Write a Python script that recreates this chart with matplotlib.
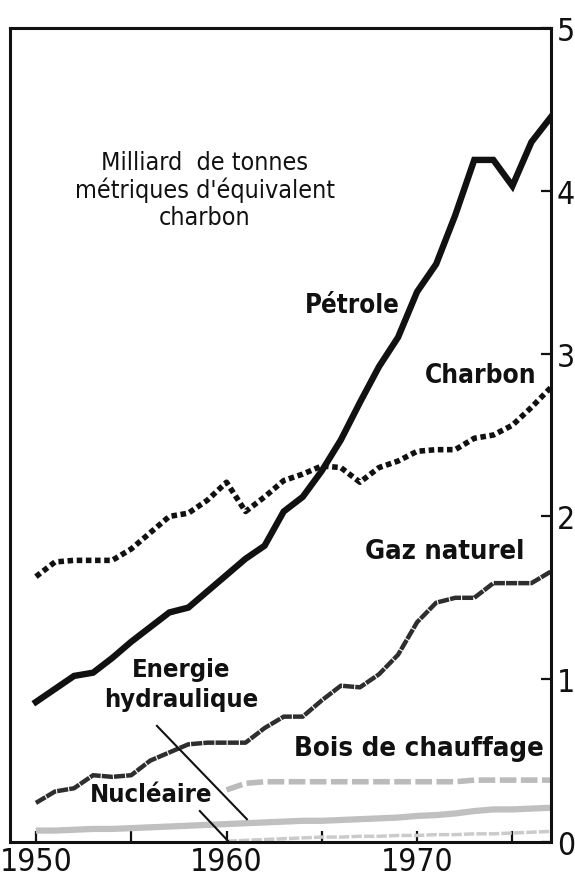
import matplotlib
matplotlib.use("Agg")
import matplotlib.pyplot as plt
from matplotlib import font_manager

# pick a narrow face if one is installed, else DejaVu Sans
narrow = None
for f in font_manager.fontManager.ttflist:
    name = f.name.lower()
    st = str(f.stretch).lower()
    if 'narrow' in name or 'condensed' in name or st in ('condensed', 'semi-condensed', '75', '87.5'):
        if 'liberation' in name or 'dejavu' in name or 'roboto' in name or 'noto' in name or 'open' in name:
            narrow = f
            break
if narrow is not None:
    FAMILY = [narrow.name, 'DejaVu Sans']
    STRETCH = narrow.stretch
else:
    FAMILY = ['DejaVu Sans']
    STRETCH = 'normal'
plt.rcParams['font.family'] = FAMILY
plt.rcParams['font.stretch'] = STRETCH

# data (milliard de tonnes equivalent charbon)
years = list(range(1950, 1978))
petrole = [0.86, 0.94, 1.02, 1.04, 1.13, 1.23, 1.32, 1.41, 1.44, 1.54,
           1.64, 1.74, 1.82, 2.03, 2.12, 2.28, 2.47, 2.70, 2.92, 3.10,
           3.38, 3.55, 3.85, 4.19, 4.19, 4.03, 4.30, 4.45]
charbon = [1.63, 1.72, 1.73, 1.73, 1.73, 1.80, 1.90, 2.00, 2.02, 2.10,
           2.21, 2.03, 2.12, 2.22, 2.26, 2.31, 2.30, 2.21, 2.30, 2.34,
           2.40, 2.41, 2.41, 2.48, 2.50, 2.56, 2.67, 2.79]
gaz = [0.24, 0.31, 0.33, 0.41, 0.40, 0.41, 0.50, 0.55, 0.60, 0.61,
       0.61, 0.61, 0.70, 0.77, 0.77, 0.87, 0.96, 0.95, 1.03, 1.15,
       1.35, 1.47, 1.50, 1.50, 1.59, 1.59, 1.59, 1.66]
hydro = [0.07, 0.07, 0.075, 0.08, 0.08, 0.085, 0.09, 0.095, 0.10, 0.105,
         0.11, 0.115, 0.12, 0.125, 0.13, 0.13, 0.135, 0.14, 0.145, 0.15,
         0.16, 0.165, 0.175, 0.19, 0.20, 0.20, 0.205, 0.21]
years_60 = list(range(1960, 1978))
bois = [0.32, 0.36, 0.37, 0.37, 0.37, 0.37, 0.37, 0.37, 0.37, 0.37,
        0.37, 0.37, 0.37, 0.38, 0.38, 0.38, 0.38, 0.38]
nucleaire = [0.005, 0.01, 0.015, 0.02, 0.025, 0.03, 0.03, 0.035, 0.035,
             0.04, 0.04, 0.045, 0.045, 0.05, 0.05, 0.055, 0.06, 0.065]

xticks = [1950, 1955, 1960, 1965, 1970, 1975]
xticklabels = ['1950', '', '1960', '', '1970', '']
yticks = [0, 1, 2, 3, 4, 5]

fig = plt.figure(figsize=(5.75, 8.78), dpi=100)
ax = fig.add_axes([0.0174, 0.0399, 0.941, 0.927])

# light series first
ax.plot(years, hydro, color='#c0c0c0', lw=4.5, solid_capstyle='butt')
ax.plot(years_60, nucleaire, color='#cbcbcb', lw=2.5, ls=(0, (3, 0.6)))
ax.plot(years_60, bois, color='#bbbbbb', lw=4, ls=(0, (3, 0.8)))
ax.plot(years, gaz, color='#2e2e2e', lw=3.2, ls=(0, (2.5, 0.25)))
ax.plot(years, charbon, color='#111111', lw=4, ls=(0, (1, 0.65)),
        dash_capstyle='butt')
ax.plot(years, petrole, color='#111111', lw=4.6, solid_joinstyle='miter')

ax.set_xlim(1948.64, 1977.03)
ax.set_ylim(0, 5)

for s in ax.spines.values():
    s.set_linewidth(2.2)
    s.set_color('#111111')

ax.set_xticks(xticks)
ax.set_xticklabels(xticklabels, fontsize=25)
ax.tick_params(axis='x', direction='in', length=8, width=1.6, pad=3,
               colors='#111111')
ax.yaxis.tick_right()
ax.set_yticks(yticks)
ax.set_yticklabels([str(v) for v in yticks], fontsize=25)
ax.tick_params(axis='y', direction='in', length=7, width=1.6, pad=4,
               colors='#111111')

texts = []
t = ax.text(1958.87, 4.01, "Milliard  de tonnes\nmétriques d'équivalent\ncharbon",
            fontsize=19, ha='center', va='center', linespacing=1.15,
            color='#111111')
texts.append((t, 260))

bold = dict(fontsize=20, fontweight='bold', color='#111111')
texts.append((ax.text(1966.6, 3.30, 'Pétrole', ha='center', va='center', **bold), 95))
texts.append((ax.text(1973.36, 2.87, 'Charbon', ha='center', va='center', **bold), 112))
texts.append((ax.text(1971.47, 1.79, 'Gaz naturel', ha='center', va='center', **bold), 160))
texts.append((ax.text(1957.6, 0.97, 'Energie\nhydraulique', ha='center', va='center',
                      linespacing=1.35, **bold), 155))
texts.append((ax.text(1970.1, 0.58, 'Bois de chauffage', ha='center', va='center', **bold), 250))
texts.append((ax.text(1956.06, 0.295, 'Nucléaire', ha='center', va='center', **bold), 123))

# pointer lines
ax.plot([1956.35, 1961.07], [0.713, 0.14], color='#111111', lw=1.5)
ax.plot([1958.6, 1960.13], [0.19, 0.0], color='#111111', lw=1.5)

# fit the texts to the widths they take in the chart
fig.canvas.draw()
r = fig.canvas.get_renderer()
for t, w in texts:
    cur = t.get_window_extent(r).width
    t.set_fontsize(t.get_fontsize() * w / cur)

lab = ax.get_xticklabels()[0]
cur = lab.get_window_extent(r).width
tick_fs = 25 * 73 / cur
ax.tick_params(axis='both', labelsize=tick_fs)

fig.savefig('out.png', dpi=100)
